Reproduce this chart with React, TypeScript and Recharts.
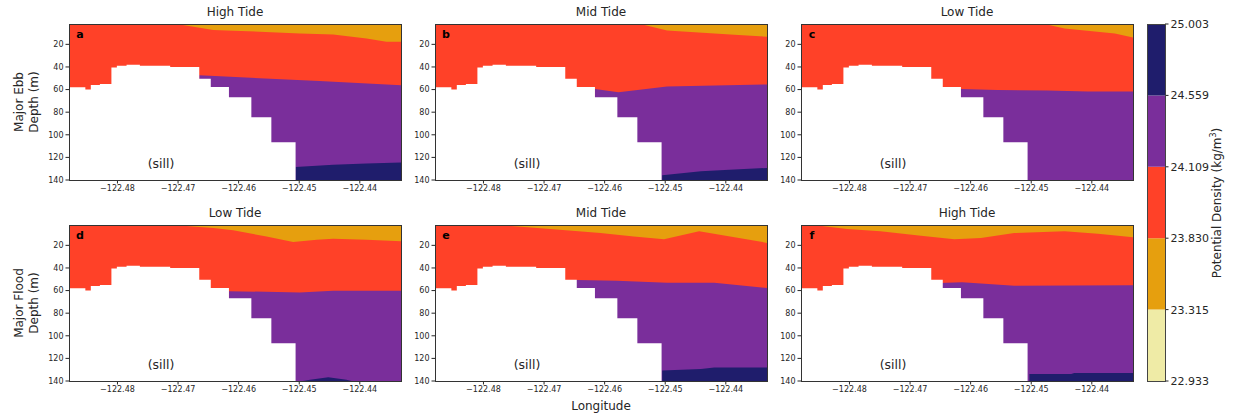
import React from "react";
import { ComposedChart, Area, XAxis, YAxis, CartesianGrid, BarChart, Bar } from "recharts";

type Pt = [number, number];

const lonTicks = [-122.48, -122.47, -122.46, -122.45, -122.44];
const depthTicks = [20, 40, 60, 80, 100, 120, 140];
const lonRange: [number, number] = [-122.488, -122.4332];
const depthRange: [number, number] = [2, 140];

const densityLevels = [22.933, 23.315, 23.83, 24.109, 24.559, 25.003];
const densityColors = ["#EFEBA6", "#E69F0E", "#FF4128", "#7A2E9B", "#1F1D6C"];

// seabed along the transect (same grid for every panel)
const bathy: Pt[] = [
  [-122.4885, 58], [-122.4853, 60], [-122.4844, 56], [-122.4829, 55],
  [-122.481, 40.5], [-122.4801, 39], [-122.4785, 38], [-122.4763, 39],
  [-122.4713, 40], [-122.4665, 50.5], [-122.4646, 57.8], [-122.4616, 66.7],
  [-122.4579, 84.6], [-122.4546, 106.5], [-122.4506, 142], [-122.433, 142],
];

// interfaces: top = orange/red, mid = red/purple, deep = purple/navy
const topA: Pt[] = [[-122.4885, 2], [-122.4702, 2], [-122.4642, 7.3], [-122.4609, 7.9], [-122.4499, 10.3], [-122.4444, 11.2], [-122.4389, 14.8], [-122.4356, 17.7], [-122.433, 17.7]];
const midA: Pt[] = [[-122.4665, 47.4], [-122.4467, 52.5], [-122.433, 56.2]];
const deepA: Pt[] = [[-122.4506, 128.4], [-122.4444, 126.6], [-122.4389, 125.4], [-122.433, 124.5]];

const topB: Pt[] = [[-122.4885, 2], [-122.4541, 2], [-122.4497, 7.8], [-122.4386, 11.5], [-122.433, 13.3]];
const midB: Pt[] = [[-122.4616, 59.4], [-122.4577, 62.4], [-122.4497, 57.3], [-122.433, 55.5]];
const deepB: Pt[] = [[-122.4505, 135.8], [-122.4441, 132.3], [-122.4386, 130.8], [-122.433, 129.3]];

const topC: Pt[] = [[-122.4885, 2], [-122.4478, 2], [-122.4445, 5.9], [-122.4362, 10.3], [-122.433, 14.2]];
const midC: Pt[] = [[-122.4616, 59.4], [-122.4556, 60.3], [-122.4473, 60.9], [-122.4407, 61.8], [-122.433, 61.8]];
const deepC: Pt[] = [];

const topD: Pt[] = [[-122.4885, 2], [-122.4708, 2], [-122.4642, 4.7], [-122.4609, 6.7], [-122.4554, 12.1], [-122.451, 17.1], [-122.4471, 15.1], [-122.4444, 14.2], [-122.4389, 15.1], [-122.433, 16.5]];
const midD: Pt[] = [[-122.4616, 60.5], [-122.4499, 61.7], [-122.4444, 60.2], [-122.433, 60.2]];
const deepD: Pt[] = [[-122.4506, 141], [-122.4482, 139], [-122.4452, 136.7], [-122.4422, 139], [-122.4405, 141], [-122.433, 141]];

const topE: Pt[] = [[-122.4885, 2], [-122.4773, 2], [-122.469, 5.6], [-122.4607, 9.1], [-122.4552, 12.1], [-122.4502, 14.5], [-122.4444, 7.6], [-122.433, 18]];
const midE: Pt[] = [[-122.4665, 51], [-122.4646, 50.7], [-122.458, 51.3], [-122.4497, 53.1], [-122.4419, 53.1], [-122.433, 57.8]];
const deepE: Pt[] = [[-122.4505, 130.8], [-122.4441, 129.3], [-122.4419, 128], [-122.433, 128]];

const topF: Pt[] = [[-122.4885, 2], [-122.4859, 2], [-122.4804, 5.6], [-122.4749, 7.6], [-122.4682, 11.5], [-122.4627, 14.5], [-122.4583, 13.6], [-122.4528, 9.1], [-122.4445, 7.6], [-122.439, 9.7], [-122.433, 13]];
const midF: Pt[] = [[-122.4665, 53.6], [-122.4614, 52.7], [-122.4528, 55.7], [-122.433, 55.4]];
const deepF: Pt[] = [[-122.4503, 133.7], [-122.4434, 133.7], [-122.4429, 132.9], [-122.433, 132.9]];

const titles = ["High Tide", "Mid Tide", "Low Tide", "Low Tide", "Mid Tide", "High Tide"];
const letters = ["a", "b", "c", "d", "e", "f"];
const rowLabels = [["Major Ebb", "Depth (m)"], ["Major Flood", "Depth (m)"]];

const PLOT_W = 332;
const PLOT_H = 156;
const Y_AXIS_W = 40;
const X_AXIS_H = 24;
const colX = [69, 435, 801];
const rowY = [24, 225];
const FONT = "'DejaVu Sans', sans-serif";
const INK = "#262626";

function buildRows(top: Pt[], mid: Pt[], deep: Pt[]) {
  const map = new Map<number, any>();
  const add = (pts: Pt[], key: string) =>
    pts.forEach(([x, y]) => {
      const r = map.get(x) ?? { lon: x };
      r[key] = y;
      map.set(x, r);
    });
  add(bathy, "sill");
  add(top, "top");
  add(mid, "mid");
  add(deep, "deep");
  return [...map.values()].sort((a, b) => a.lon - b.lon);
}

const panels = [
  buildRows(topA, midA, deepA),
  buildRows(topB, midB, deepB),
  buildRows(topC, midC, deepC),
  buildRows(topD, midD, deepD),
  buildRows(topE, midE, deepE),
  buildRows(topF, midF, deepF),
];

const fmtLon = (v: number) => v.toFixed(2).replace("-", "\u2212");

const abs = (x: number, y: number, extra: React.CSSProperties = {}): React.CSSProperties => ({
  position: "absolute",
  left: x,
  top: y,
  transform: "translate(-50%, -50%)",
  whiteSpace: "nowrap",
  color: INK,
  ...extra,
});

function Panel({ rows, index }: { rows: any[]; index: number }) {
  const px = colX[index % 3];
  const py = rowY[Math.floor(index / 3)];
  const layer = (key: string, color: string, step = false) => (
    <Area
      dataKey={key}
      type={step ? "stepAfter" : "linear"}
      baseValue={140}
      fill={color}
      fillOpacity={1}
      stroke="none"
      connectNulls
      dot={false}
      activeDot={false}
      isAnimationActive={false}
    />
  );
  return (
    <>
      <div style={{ position: "absolute", left: px - Y_AXIS_W, top: py }}>
        <ComposedChart
          width={Y_AXIS_W + PLOT_W}
          height={PLOT_H + X_AXIS_H}
          data={rows}
          margin={{ top: 0, right: 0, bottom: 0, left: 0 }}
        >
          <CartesianGrid fill={densityColors[1]} fillOpacity={1} horizontal={false} vertical={false} stroke="none" />
          <XAxis
            dataKey="lon"
            type="number"
            domain={lonRange}
            ticks={lonTicks}
            allowDataOverflow
            tickFormatter={fmtLon}
            height={X_AXIS_H}
            axisLine={false}
            tickSize={3.5}
            tickMargin={2}
            tickLine={{ stroke: INK }}
            tick={{ fontSize: 8, fill: INK, fontFamily: FONT }}
          />
          <YAxis
            type="number"
            reversed
            domain={depthRange}
            ticks={depthTicks}
            allowDataOverflow
            width={Y_AXIS_W}
            axisLine={false}
            tickSize={3.5}
            tickMargin={2}
            tickLine={{ stroke: INK }}
            tick={{ fontSize: 8, fill: INK, fontFamily: FONT }}
          />
          {layer("top", densityColors[2])}
          {layer("mid", densityColors[3])}
          {layer("deep", densityColors[4])}
          {layer("sill", "#ffffff", true)}
        </ComposedChart>
      </div>
      <div
        style={{
          position: "absolute",
          left: px - 0.5,
          top: py - 0.5,
          width: PLOT_W + 1,
          height: PLOT_H + 1,
          border: "1px solid #333",
          boxSizing: "border-box",
        }}
      />
      <div style={abs(px + PLOT_W / 2, py - 12, { fontSize: 12 })}>{titles[index]}</div>
      <div style={abs(px + 11, py + 10, { fontSize: 11, fontWeight: "bold", color: "#000" })}>{letters[index]}</div>
      <div style={abs(px + 92, py + 139, { fontSize: 12.5 })}>(sill)</div>
    </>
  );
}

function ColorBar() {
  const row: any = { name: "cb" };
  densityColors.forEach((_, i) => (row[`b${i}`] = 1));
  const h = rowY[1] + PLOT_H - rowY[0];
  const pad = 10;
  return (
    <>
      <div style={{ position: "absolute", left: 1147, top: 24 - pad }}>
        <BarChart
          width={18 + 60}
          height={h + 2 * pad}
          data={[row]}
          margin={{ top: pad, right: 0, bottom: pad, left: 0 }}
          barCategoryGap={0}
        >
          <XAxis dataKey="name" hide />
          <YAxis
            orientation="right"
            type="number"
            domain={[0, densityColors.length]}
            ticks={densityLevels.map((_, i) => i)}
            interval={0}
            tickFormatter={(i: number) => densityLevels[i].toFixed(3)}
            width={60}
            axisLine={false}
            tickSize={3.5}
            tickMargin={2}
            tickLine={{ stroke: INK }}
            tick={{ fontSize: 11, fill: INK, fontFamily: FONT }}
          />
          {densityColors.map((c, i) => (
            <Bar key={c} dataKey={`b${i}`} stackId="cb" fill={c} isAnimationActive={false} />
          ))}
        </BarChart>
      </div>
      <div
        style={{
          position: "absolute",
          left: 1146.5,
          top: 23.5,
          width: 19,
          height: h + 1,
          border: "1px solid #444",
          boxSizing: "border-box",
        }}
      />
      <div style={abs(1216, 24 + h / 2, { fontSize: 12, transform: "translate(-50%, -50%) rotate(-90deg)" })}>
        Potential Density (kg/m<sup style={{ fontSize: 8 }}>3</sup>)
      </div>
    </>
  );
}

export default function App() {
  return (
    <div
      style={{
        position: "absolute",
        left: 0,
        top: 0,
        width: 1235,
        height: 416,
        background: "#fff",
        fontFamily: FONT,
        overflow: "hidden",
      }}
    >
      {panels.map((rows, i) => (
        <Panel key={i} rows={rows} index={i} />
      ))}
      {rowLabels.map((lines, r) => (
        <React.Fragment key={r}>
          <div style={abs(19, rowY[r] + PLOT_H / 2, { fontSize: 12, transform: "translate(-50%, -50%) rotate(-90deg)" })}>{lines[0]}</div>
          <div style={abs(34, rowY[r] + PLOT_H / 2, { fontSize: 12, transform: "translate(-50%, -50%) rotate(-90deg)" })}>{lines[1]}</div>
        </React.Fragment>
      ))}
      <div style={abs(colX[1] + PLOT_W / 2, 406, { fontSize: 12 })}>Longitude</div>
      <ColorBar />
    </div>
  );
}
